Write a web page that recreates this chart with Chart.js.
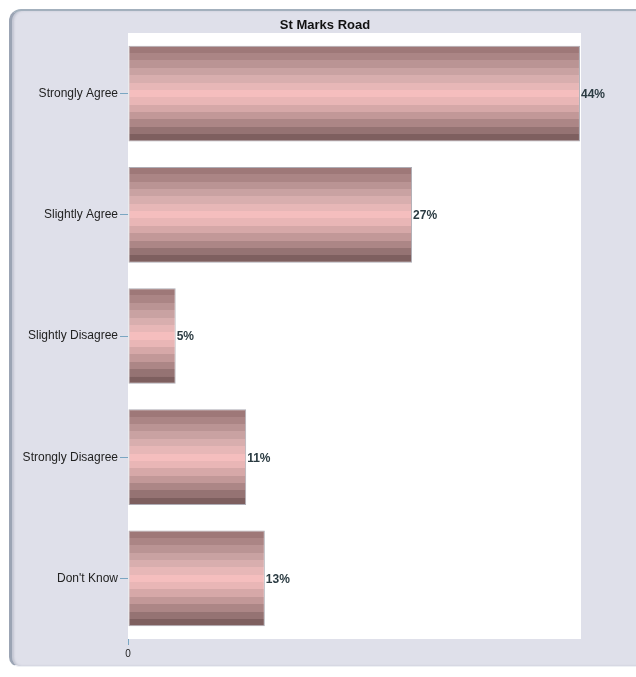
<!DOCTYPE html>
<html>
<head>
<meta charset="utf-8">
<script src="https://cdn.jsdelivr.net/npm/chart.js@4/dist/chart.umd.min.js"></script>
<style>
    html, body { margin: 0; padding: 0; background: #ffffff; }
    #wrap { position: relative; width: 636px; height: 677px; }
    #panel {
        position: absolute; left: 9px; top: 9px; width: 627px; height: 658px;
        background: #dfe0ea;
        border-top: 2px solid #a3b0bd;
        border-left: 3px solid #9ba4b4;
        border-bottom: 1px solid #eef0f4;
        border-radius: 12px 0 0 10px;
        box-sizing: border-box;
        box-shadow: inset 2px 0 2px rgba(110,120,140,0.25);
    }
    #chart { position: absolute; left: 0; top: 0; }
</style>
</head>
<body>
<div id="wrap">
    <div id="panel"></div>
    <canvas id="chart" width="636" height="677"></canvas>
</div>
<script>
const categories = ['Strongly Agree', 'Slightly Agree', 'Slightly Disagree', 'Strongly Disagree', "Don't Know"];
const percentages = [43.6, 27.4, 4.6, 11.4, 13.2];
const xTickValues = [0];

// horizontal bands of the bar shading, top to bottom
const bandColors = ['#9e7878', '#ab8585', '#ba9494', '#c9a2a2', '#d8aeae', '#e7b7b7', '#f5bebe',
                    '#e9b6b6', '#d6a8a8', '#c29898', '#ac8686', '#957373', '#7e5f5f'];

function barGradient(context) {
    const chart = context.chart;
    const yScale = chart.scales.y;
    if (!yScale || context.dataIndex === undefined) return bandColors[6];
    const cat = yScale.height / categories.length;
    const half = cat * 0.79 / 2;
    const mid = yScale.getPixelForValue(context.dataIndex);
    if (!isFinite(mid) || !isFinite(half) || half <= 0) return bandColors[6];
    const g = chart.ctx.createLinearGradient(0, mid - half, 0, mid + half);
    const n = bandColors.length;
    for (let i = 0; i < n; i++) {
        g.addColorStop(i / n, bandColors[i]);
        g.addColorStop(Math.min(1, (i + 1) / n - 0.0001), bandColors[i]);
    }
    return g;
}

const plotBackground = {
    id: 'plotBackground',
    beforeDatasetsDraw(chart) {
        const a = chart.chartArea;
        const ctx = chart.ctx;
        ctx.save();
        ctx.fillStyle = '#ffffff';
        ctx.fillRect(a.left, a.top, a.right - a.left, a.bottom - a.top);
        ctx.restore();
    }
};

const valueLabels = {
    id: 'valueLabels',
    afterDatasetsDraw(chart) {
        const ctx = chart.ctx;
        const meta = chart.getDatasetMeta(0);
        ctx.save();
        ctx.font = 'bold 12px "Liberation Sans", Arial, sans-serif';
        ctx.fillStyle = '#2b3b42';
        ctx.textAlign = 'left';
        ctx.textBaseline = 'middle';
        meta.data.forEach((bar, i) => {
            ctx.fillText(Math.round(percentages[i]) + '%', bar.x + 1, bar.y + 1);
        });
        ctx.restore();
    }
};

const ctx = document.getElementById('chart').getContext('2d');
const chart = new Chart(ctx, {
    type: 'bar',
    data: {
        labels: categories,
        datasets: [{
            data: percentages,
            backgroundColor: barGradient,
            borderColor: 'rgba(110,105,120,0.55)',
            borderWidth: 1,
            borderSkipped: false,
            categoryPercentage: 0.79,
            barPercentage: 1
        }]
    },
    options: {
        indexAxis: 'y',
        responsive: false,
        animation: false,
        layout: { padding: { left: 14, right: 0, top: 0, bottom: 0 } },
        plugins: {
            legend: { display: false },
            tooltip: { enabled: false },
            title: {
                display: true,
                text: 'St Marks Road',
                color: '#111111',
                font: { family: '"Liberation Sans", Arial, sans-serif', size: 13, weight: 'bold', lineHeight: 1 },
                padding: { top: 19, bottom: 1 }
            }
        },
        scales: {
            x: {
                min: 0,
                max: 43.7,
                border: { display: false },
                grid: { drawOnChartArea: false, drawTicks: true, tickLength: 6, color: '#7aa6c2' },
                afterBuildTicks(scale) {
                    scale.ticks = xTickValues.map(v => ({ value: v }));
                },
                afterFit(scale) { scale.height = 38; },
                ticks: {
                    color: '#222222',
                    padding: 3,
                    font: { family: '"Liberation Sans", Arial, sans-serif', size: 10 }
                }
            },
            y: {
                border: { display: false },
                grid: { drawOnChartArea: false, drawTicks: true, tickLength: 8, offset: false, color: '#7aa6c2' },
                afterFit(scale) { scale.width = 114; },
                ticks: {
                    color: '#222222',
                    padding: 2,
                    font: { family: '"Liberation Sans", Arial, sans-serif', size: 12 }
                }
            },
            // empty axis on the right that only keeps the margin beside the plot
            rightMargin: {
                type: 'linear',
                position: 'right',
                border: { display: false },
                grid: { display: false },
                ticks: { display: false },
                afterFit(scale) { scale.width = 55; }
            }
        }
    },
    plugins: [plotBackground, valueLabels]
});
</script>
</body>
</html>
